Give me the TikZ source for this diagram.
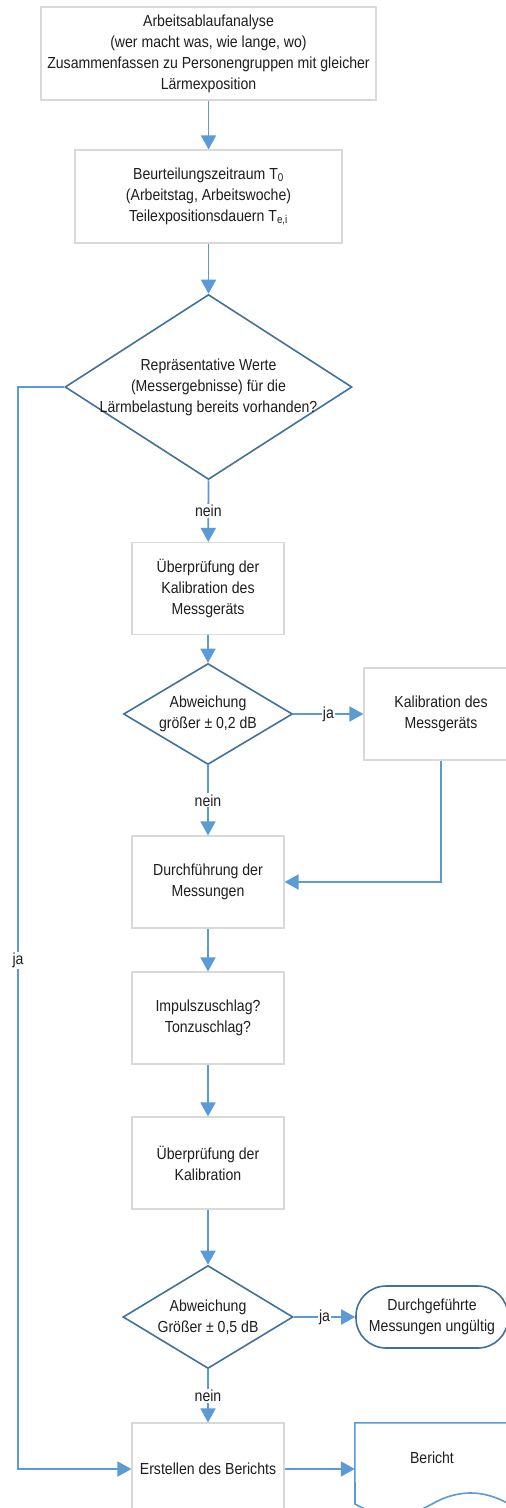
\documentclass[tikz,border=0pt]{standalone}
\usepackage{fontspec}
\setmainfont{Liberation Sans}[FakeStretch=0.88]
\usepackage{tikz}
\usetikzlibrary{arrows.meta}
\usetikzlibrary{shapes.geometric}
\usetikzlibrary{positioning}
\definecolor{flow}{RGB}{91,155,213}
\definecolor{edge}{RGB}{65,113,156}
\definecolor{frame}{RGB}{217,217,217}
\definecolor{ink}{RGB}{30,30,30}
\newcommand{\flowfont}{\fontsize{16}{21}\selectfont}

\tikzset{
	box/.style={draw=frame,line width=1.2pt,fill=white,minimum width=152pt,minimum height=92pt,align=center,inner sep=1pt,text=ink,font=\flowfont},
	decision/.style={diamond,draw=edge,line width=1.6pt,fill=white,inner sep=0pt},
	inside/.style={align=center,text=ink,font=\flowfont,inner sep=0pt},
	term/.style={draw=edge,line width=1.6pt,fill=white,rounded corners=30pt,minimum width=152pt,minimum height=62pt,align=center,inner sep=1pt,text=ink,font=\flowfont},
	arr/.style={flow,line width=1.8pt,-{Triangle[length=14pt,width=15pt]}},
	lbl/.style={fill=white,inner sep=1pt,text=ink,font=\flowfont}
}

\begin{document}
\begin{tikzpicture}[x=1pt,y=-1pt]
	\fill [white] (0,0) rectangle (506,1508);
	\useasboundingbox (0,0) rectangle (506,1508);

	\node [box,minimum width=335pt,minimum height=93pt] (ana) at (208.5,53.5) {Arbeitsablaufanalyse\\(wer macht was, wie lange, wo)\\Zusammenfassen zu Personengruppen mit gleicher\\Lärmexposition};
	\node [box,minimum width=267pt,minimum height=93pt] (zeit) at (208.5,196.5) {Beurteilungszeitraum T\textsubscript{0}\\(Arbeitstag, Arbeitswoche)\\Teilexpositionsdauern T\textsubscript{e,i}};
	\node [decision,minimum width=287pt,minimum height=185pt,label={[inside]center:{Repräsentative Werte\\(Messergebnisse) für die\\Lärmbelastung bereits vorhanden?}}] (vorh) at (208.5,387) {};
	\node [box] (pruef) at (208,588.5) {Überprüfung der\\Kalibration des\\Messgeräts};
	\node [decision,minimum width=169pt,minimum height=101pt,label={[inside]center:{Abweichung\\größer ± 0,2 dB}}] (abw) at (208,714) {};
	\node [box,minimum width=154pt] (kal) at (441,714) {Kalibration des\\Messgeräts};
	\node [box] (durch) at (208,882) {Durchführung der\\Messungen};
	\node [box] (zuschl) at (208,1018) {Impulszuschlag?\\Tonzuschlag?};
	\node [box] (pruefb) at (208,1163) {Überprüfung der\\Kalibration};
	\node [decision,minimum width=170pt,minimum height=103pt,label={[inside]center:{Abweichung\\Größer ± 0,5 dB}}] (abwb) at (208,1317) {};
	\node [term] (ungueltig) at (432,1317) {Durchgeführte\\Messungen ungültig};
	\node [box] (erst) at (208,1469) {Erstellen des Berichts};
	\node [inside,minimum width=154pt,minimum height=70pt] (ber) at (432,1458) {Bericht};

	% Dokument mit gewelltem Rand
	\draw [flow,line width=1.6pt] (ber.north west) -- (ber.north east) -- (509,1504) .. controls (483.3,1489.3) and (457.7,1489.3) .. (432,1504) .. controls (406.3,1518.7) and (380.7,1518.7) .. (355,1504) -- cycle;

	\draw [arr] (ana) -- (zeit);
	\draw [arr] (zeit) -- (vorh.north);
	\draw [arr] (vorh.south) -- node[lbl]{nein} (pruef);
	\draw [arr] (pruef) -- (abw.north);
	\draw [arr] (abw.east) -- node[lbl]{ja} (kal);
	\draw [arr] (abw.south) -- node[lbl]{nein} (durch);
	\draw [arr] (kal.south) |- (durch.east);
	\draw [arr] (durch) -- (zuschl);
	\draw [arr] (zuschl) -- (pruefb);
	\draw [arr] (pruefb) -- (abwb.north);
	\draw [arr] (abwb.east) -- node[lbl]{ja} (ungueltig);
	\draw [arr] (abwb.south) -- node[lbl]{nein} (erst);

	\coordinate [] (jaTop) at (18,387);
	\coordinate [] (jaBot) at (18,1469);
	\draw [arr] (vorh.west) -- (jaTop) -- node[lbl,pos=0.53]{ja} (jaBot) -- (erst.west);
	\draw [arr] (erst.east) -- (erst.east -| ber.west);

\end{tikzpicture}
\end{document}
